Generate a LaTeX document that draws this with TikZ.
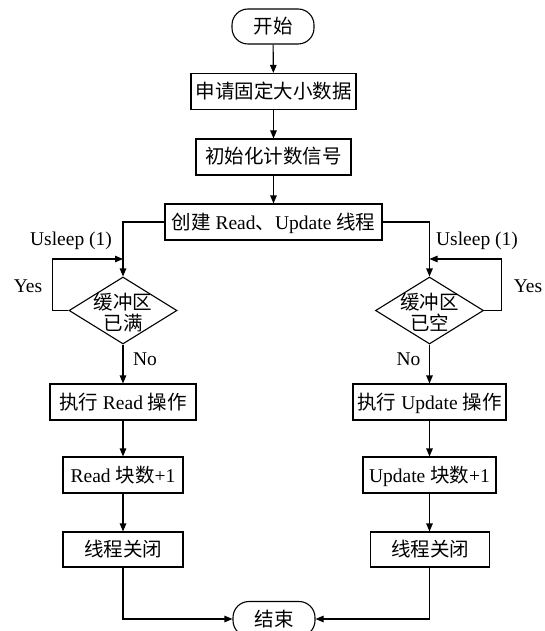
\documentclass[tikz,border=0pt]{standalone}
\usepackage{fontspec}
\setmainfont{Liberation Serif}
\newfontfamily\cjk{Noto Sans CJK SC}
\usetikzlibrary{arrows.meta,shapes.geometric}
\begin{document}
\begin{tikzpicture}[x=1pt,y=-1pt,line width=1.1pt,
  every node/.style={font=\fontsize{19.5}{21.5}\selectfont,inner sep=0pt},
  box/.style={draw,rectangle,minimum height=36pt,text height=16pt,text depth=2pt},
  term/.style={draw,rectangle,rounded corners=16pt,minimum width=82pt,minimum height=35pt,text height=16pt,text depth=2pt},
  dia/.style={draw,diamond,minimum width=108pt,minimum height=67pt},
  diatext/.style={align=center},
  lbl/.style={text height=14pt,text depth=4pt},
  arr/.style={-{Triangle[length=8pt,width=6.5pt]}}
]
\clip (0,0) rectangle (544,631);
\fill[white] (0,0) rectangle (544,631);

\node[term] (start) at (273,26.5) {\cjk 开始};
\node[box,minimum width=165pt] (b1) at (273.5,91.5) {\cjk 申请固定大小数据};
\node[box,minimum width=155pt] (b2) at (273.5,157) {\cjk 初始化计数信号};
\node[box,minimum width=217pt] (b3) at (273.5,222) {{\cjk 创建} Read{\cjk 、}Update {\cjk 线程}};

\node[dia] (dL) at (123,310.5) {};
\node[diatext] (tL) at (123,312.5) {\cjk 缓冲区\\\cjk 已满};
\node[dia] (dR) at (429.5,310.5) {};
\node[diatext] (tR) at (429.5,312.5) {\cjk 缓冲区\\\cjk 已空};

\node[box,minimum width=146pt] (rL1) at (123,402) {{\cjk 执行} Read {\cjk 操作}};
\node[box,minimum width=120pt] (rL2) at (123,475) {Read {\cjk 块数}+1};
\node[box,minimum width=120pt,minimum height=35pt] (rL3) at (123,549.5) {\cjk 线程关闭};

\node[box,minimum width=153pt] (rR1) at (429.5,402) {{\cjk 执行} Update {\cjk 操作}};
\node[box,minimum width=133pt] (rR2) at (429.5,475) {Update {\cjk 块数}+1};
\node[box,minimum width=119pt,minimum height=35pt] (rR3) at (430,549.5) {\cjk 线程关闭};

\node[term] (end) at (274,619) {\cjk 结束};

\node[lbl] (uL) at (71,240) {Usleep (1)};
\node[lbl] (uR) at (477,240) {Usleep (1)};
\node[lbl] (yL) at (28,287) {Yes};
\node[lbl] (yR) at (528,287) {Yes};
\node[lbl] (nL) at (145,360) {No};
\node[lbl] (nR) at (408.5,360) {No};

\coordinate (lpL) at (123,259);
\coordinate (lpR) at (429.5,259);

\draw[arr] (start) -- (b1);
\draw[arr] (b1) -- (b2);
\draw[arr] (b2) -- (b3);
\draw[arr] (b3.west) -| (dL.north);
\draw[arr] (b3.east) -| (dR.north);
\draw[arr] (dL.west) -- ++(-16,0) |- (lpL);
\draw[arr] (dR.east) -- ++(17,0) |- (lpR);
\draw[arr] (dL.south) -- (rL1);
\draw[arr] (rL1) -- (rL2);
\draw[arr] (rL2) -- (rL3);
\draw[arr] (dR.south) -- (rR1);
\draw[arr] (rR1) -- (rR2);
\draw[arr] (rR2) -- (rR3.north -| rR2.south);
\draw[arr] (rL3.south) |- (end.west);
\draw[arr] (rR3.south -| rR2.south) |- (end.east);
\end{tikzpicture}
\end{document}
